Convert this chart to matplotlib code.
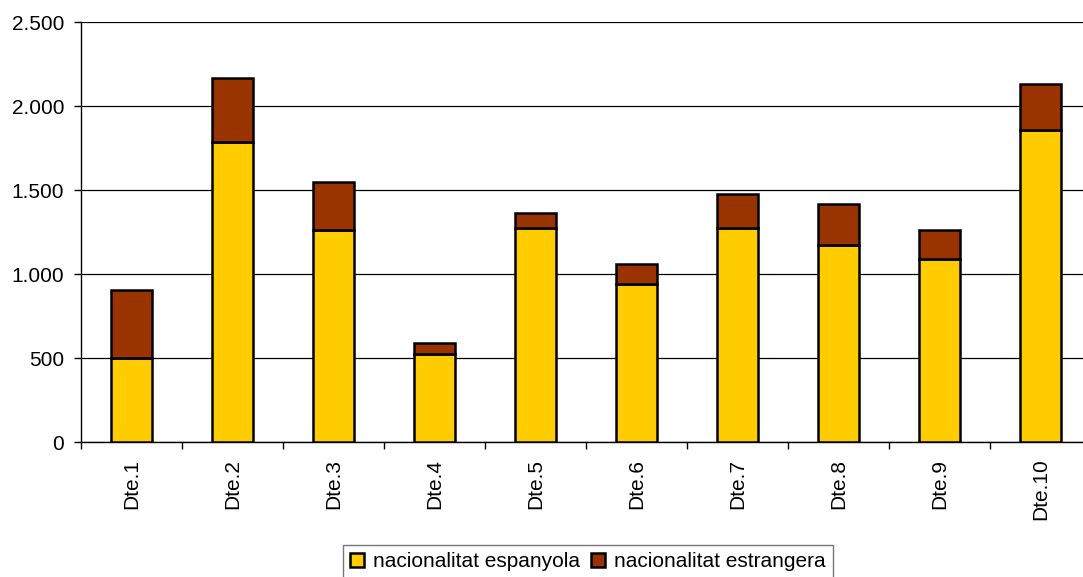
import matplotlib
matplotlib.use("Agg")
import matplotlib.pyplot as plt
from matplotlib.ticker import FuncFormatter, FixedLocator, FixedFormatter, NullFormatter

categories = ["Dte.1", "Dte.2", "Dte.3", "Dte.4", "Dte.5",
              "Dte.6", "Dte.7", "Dte.8", "Dte.9", "Dte.10"]
espanyola = [502, 1788, 1260, 524, 1272, 942, 1274, 1173, 1091, 1855]
estrangera = [403, 377, 286, 64, 89, 116, 200, 242, 169, 274]
series_names = ["nacionalitat espanyola", "nacionalitat estrangera"]
yticks = [0, 500, 1000, 1500, 2000, 2500]

plt.rcParams['font.family'] = ['Liberation Sans', 'DejaVu Sans']
FS = 15
plt.rcParams['xtick.labelsize'] = FS
plt.rcParams['ytick.labelsize'] = FS

W, H = 1083, 577
fig = plt.figure(figsize=(W / 100, H / 100), dpi=100)
ax = fig.add_axes([81 / W, (H - 442) / H, 1010 / W, 420 / H])

x = list(range(len(categories)))
b1 = ax.bar(x, espanyola, width=0.41, color="#FFCC00", edgecolor="black",
            linewidth=1.8, label=series_names[0], zorder=3)
b2 = ax.bar(x, estrangera, bottom=espanyola, width=0.41, color="#993300",
            edgecolor="black", linewidth=1.8, label=series_names[1], zorder=3)

ax.set_xlim(-0.5, len(categories) - 0.5)
ax.set_ylim(0, 2500)
ax.set_yticks(yticks)
ax.yaxis.set_major_formatter(FuncFormatter(lambda v, p: f"{int(v):,}".replace(",", ".")))
ax.grid(axis="y", color="black", linewidth=0.9, zorder=0)
ax.set_axisbelow(True)

ax.xaxis.set_major_locator(FixedLocator(x))
ax.xaxis.set_major_formatter(FixedFormatter(categories))
ax.xaxis.set_minor_locator(FixedLocator([i - 0.5 for i in range(len(categories) + 1)]))
ax.xaxis.set_minor_formatter(NullFormatter())
ax.tick_params(axis="x", which="major", length=0, pad=12, labelsize=FS, labelrotation=90)
ax.tick_params(axis="x", which="minor", length=5, width=1, color="black", direction="out")
ax.tick_params(axis="y", length=5, width=1, labelsize=FS, pad=7)

for s in ["top", "right"]:
    ax.spines[s].set_visible(False)
for s in ["left", "bottom"]:
    ax.spines[s].set_linewidth(1)
    ax.spines[s].set_color("black")

leg = fig.legend(handles=[b1, b2], labels=series_names, loc="upper center",
                 bbox_to_anchor=(588 / W, 1 - 545 / H), ncol=2, fontsize=FS,
                 frameon=True, fancybox=False, handlelength=0.68, handleheight=0.68,
                 handletextpad=0.45, columnspacing=0.5, borderpad=0.35,
                 borderaxespad=0)
leg.get_frame().set_edgecolor("#555555")
leg.get_frame().set_linewidth(1)

fig.savefig("out.png", dpi=100)
